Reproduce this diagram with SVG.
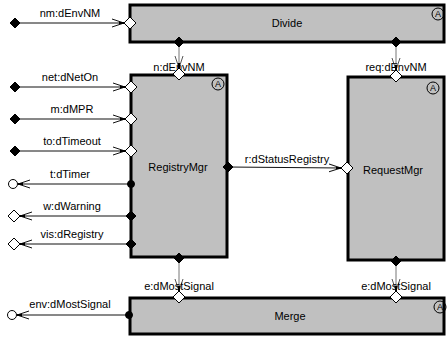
<svg xmlns="http://www.w3.org/2000/svg" width="448" height="341" viewBox="0 0 448 341">
<style>
.box{fill:#c0c0c0;stroke:#000;stroke-width:3}
.lbl{font-family:"Liberation Sans",Arial,sans-serif;font-size:11px;fill:#000;text-anchor:middle}
.name{font-family:"Liberation Sans",Arial,sans-serif;font-size:11px;fill:#000;text-anchor:middle}
.hd{fill:#fff;stroke:#000;stroke-width:1}
.fd{fill:#000;stroke:#000;stroke-width:1}
.hc{fill:#fff;stroke:#000;stroke-width:1}
.h{stroke:#111;stroke-width:1;fill:none}
.v{stroke:#777;stroke-width:1;fill:none}
.acirc{fill:none;stroke:#000;stroke-width:1}
.atxt{font-family:"Liberation Sans",Arial,sans-serif;font-size:9px;fill:#000;text-anchor:middle}
</style>
<defs>
<marker id="arr" viewBox="0 0 12 10" refX="12" refY="5" markerWidth="12" markerHeight="10" orient="auto" markerUnits="userSpaceOnUse">
<path d="M0,1 L12,5 L0,9" fill="none" stroke="#111" stroke-width="1"/>
<rect x="7" y="4" width="5" height="2" fill="#000"/>
</marker>
<marker id="arrv" viewBox="0 0 12 10" refX="12" refY="5" markerWidth="12" markerHeight="10" orient="auto" markerUnits="userSpaceOnUse">
<path d="M0,1 L12,5 L0,9" fill="none" stroke="#555" stroke-width="1"/>
<rect x="7" y="4" width="5" height="2" fill="#000"/>
</marker>
<path id="dia" d="M-6,0 L0,-6 L6,0 L0,6 Z"/>
<path id="fdia" d="M-5,0 L0,-5 L5,0 L0,5 Z"/>
</defs>

<g id="Divide">
<rect class="box" x="130" y="5" width="314" height="37"/>
<text class="name" x="287" y="27">Divide</text>
<circle class="acirc" cx="438" cy="14" r="6"/>
<text class="atxt" x="438" y="17">A</text>
</g>

<g id="RegistryMgr">
<rect class="box" x="131" y="75" width="96" height="182"/>
<text class="name" x="178" y="171">RegistryMgr</text>
<circle class="acirc" cx="218" cy="84" r="6"/>
<text class="atxt" x="218" y="87">A</text>
</g>

<g id="RequestMgr">
<rect class="box" x="348" y="77" width="96" height="183"/>
<text class="name" x="393" y="174">RequestMgr</text>
<circle class="acirc" cx="433" cy="88" r="6"/>
<text class="atxt" x="433" y="91">A</text>
</g>

<g id="Merge">
<rect class="box" x="130" y="298" width="314" height="36"/>
<text class="name" x="290" y="320">Merge</text>
<circle class="acirc" cx="440" cy="307" r="6"/>
<text class="atxt" x="440" y="310">A</text>
</g>

<g id="connectors">
<!-- inputs from left -->
<line class="h" x1="15" y1="23" x2="124" y2="23" marker-end="url(#arr)"/>
<line class="h" x1="15" y1="87" x2="125" y2="87" marker-end="url(#arr)"/>
<line class="h" x1="15" y1="119" x2="125" y2="119" marker-end="url(#arr)"/>
<line class="h" x1="15" y1="151" x2="125" y2="151" marker-end="url(#arr)"/>
<!-- outputs to left -->
<line class="h" x1="130" y1="184" x2="18" y2="184" marker-end="url(#arr)"/>
<line class="h" x1="130" y1="216" x2="20" y2="216" marker-end="url(#arr)"/>
<line class="h" x1="130" y1="244" x2="20" y2="244" marker-end="url(#arr)"/>
<line class="h" x1="129" y1="315" x2="17" y2="315" marker-end="url(#arr)"/>
<!-- internal -->
<line class="h" x1="228" y1="167" x2="341" y2="168" marker-end="url(#arr)"/>
<line class="v" x1="179" y1="42" x2="179" y2="68" marker-end="url(#arrv)"/>
<line class="v" x1="396" y1="42" x2="396" y2="70" marker-end="url(#arrv)"/>
<line class="v" x1="179" y1="258" x2="179" y2="291" marker-end="url(#arrv)"/>
<line class="v" x1="396" y1="261" x2="396" y2="291" marker-end="url(#arrv)"/>

<!-- labels -->
<text class="lbl" x="70" y="17">nm:dEnvNM</text>
<text class="lbl" x="70" y="81">net:dNetOn</text>
<text class="lbl" x="72" y="113">m:dMPR</text>
<text class="lbl" x="72" y="145">to:dTimeout</text>
<text class="lbl" x="70" y="178">t:dTimer</text>
<text class="lbl" x="72" y="210">w:dWarning</text>
<text class="lbl" x="72" y="238">vis:dRegistry</text>
<text class="lbl" x="70" y="308">env:dMostSignal</text>
<text class="lbl" x="287" y="163">r:dStatusRegistry</text>
<text class="lbl" x="179" y="71">n:dEnvNM</text>
<text class="lbl" x="396" y="71">req:dEnvNM</text>
<text class="lbl" x="179" y="290">e:dMostSignal</text>
<text class="lbl" x="396" y="290">e:dMostSignal</text>

<!-- endpoint symbols outside boxes -->
<use href="#fdia" class="fd" x="15" y="23"/>
<use href="#fdia" class="fd" x="15" y="87"/>
<use href="#fdia" class="fd" x="15" y="119"/>
<use href="#fdia" class="fd" x="15" y="151"/>
<circle class="hc" cx="13" cy="184" r="4.5"/>
<use href="#dia" class="hd" x="14" y="216"/>
<use href="#dia" class="hd" x="14" y="244"/>
<circle class="hc" cx="12" cy="315" r="4.5"/>

<!-- ports on boxes -->
<use href="#dia" class="hd" x="130" y="23"/>
<use href="#fdia" class="fd" x="179" y="42"/>
<use href="#fdia" class="fd" x="396" y="42"/>
<use href="#dia" class="hd" x="179" y="74"/>
<use href="#dia" class="hd" x="396" y="76"/>
<use href="#dia" class="hd" x="131" y="87"/>
<use href="#dia" class="hd" x="131" y="119"/>
<use href="#dia" class="hd" x="131" y="151"/>
<circle class="fd" cx="131" cy="184" r="3.5"/>
<use href="#fdia" class="fd" x="131" y="216"/>
<use href="#fdia" class="fd" x="131" y="244"/>
<use href="#fdia" class="fd" x="228" y="167"/>
<use href="#dia" class="hd" x="347" y="168"/>
<use href="#fdia" class="fd" x="179" y="258"/>
<use href="#fdia" class="fd" x="396" y="261"/>
<use href="#dia" class="hd" x="179" y="297"/>
<use href="#dia" class="hd" x="396" y="297"/>
<circle class="fd" cx="129" cy="315" r="3.5"/>
</g>
</svg>
